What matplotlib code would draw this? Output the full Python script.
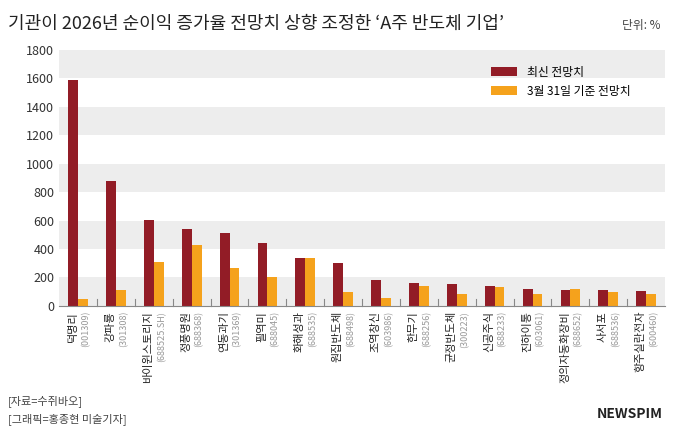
import matplotlib
matplotlib.use("Agg")
import matplotlib.pyplot as plt
import numpy as np
from matplotlib.transforms import blended_transform_factory

plt.rcParams['font.family'] = ['Noto Sans CJK KR', 'DejaVu Sans']

names = ["덕명리","강파룡","바이윈스토리지","정풍명원","연동과기","필역미","화해성과","원집반도체",
         "조역창신","한무기","균정반도체","신공주식","진하이통","정의자동화장비","사서포","항주실란전자"]
codes = ["(001309)","(301308)","(688525.SH)","(688368)","(301369)","(688045)","(688535)","(688498)",
         "(603986)","(688256)","(300223)","(688233)","(603061)","(688652)","(688536)","(600460)"]
latest = [1590,880,605,540,515,440,335,305,185,160,155,140,120,115,115,105]
march31 = [45,110,310,430,265,200,335,100,55,140,80,135,80,120,95,80]

fig = plt.figure(figsize=(6.8,4.42), dpi=100)
ax = fig.add_axes([0.087,0.308,0.891,0.579])
n = len(names)
x = np.arange(n)
w = 0.26
for lo in [0,400,800,1200,1600]:
    ax.axhspan(lo, lo+200, color='#ededed', zorder=0, lw=0)
ax.bar(x-w/2, latest, w, color='#921c26', label='최신 전망치', zorder=2)
ax.bar(x+w/2, march31, w, color='#f5a21c', label='3월 31일 기준 전망치', zorder=2)
ax.set_xlim(-0.5, n-0.5)
ax.set_ylim(0,1800)
ax.set_yticks(range(0,1801,200))
ax.tick_params(axis='y', length=0, labelsize=9, colors='#333333')
ax.set_xticks([])
for s in ['top','right','left']:
    ax.spines[s].set_visible(False)
ax.spines['bottom'].set_color('#888888')
for b in np.arange(0.5, n-0.5, 1):
    ax.plot([b,b],[0,50],color='#888888',lw=0.8,clip_on=False,zorder=3)
tr = blended_transform_factory(ax.transData, ax.transAxes)
for i in range(n):
    ax.text(i-0.14, -0.02, names[i], rotation=90, ha='center', va='top', fontsize=8, color='#222222', transform=tr)
    ax.text(i+0.2, -0.02, codes[i], rotation=90, ha='center', va='top', fontsize=6.5, color='#999999', transform=tr)
ax.legend(loc='upper right', bbox_to_anchor=(0.96,0.98), frameon=False, fontsize=8.5, handlelength=2.2, handleheight=0.8)
fig.text(0.012,0.935,"기관이 2026년 순이익 증가율 전망치 상향 조정한 ‘A주 반도체 기업’", fontsize=13, color='#222222')
fig.text(0.972,0.935,"단위: %", fontsize=8.5, color='#444444', ha='right')
fig.text(0.012,0.085,"[자료=수쥐바오]", fontsize=8, color='#444444')
fig.text(0.012,0.045,"[그래픽=홍종현 미술기자]", fontsize=8, color='#444444')
fig.text(0.975,0.055,"NEWSPIM", fontsize=10, fontweight='bold', color='#222222', ha='right')
fig.savefig("out.png", dpi=100)
